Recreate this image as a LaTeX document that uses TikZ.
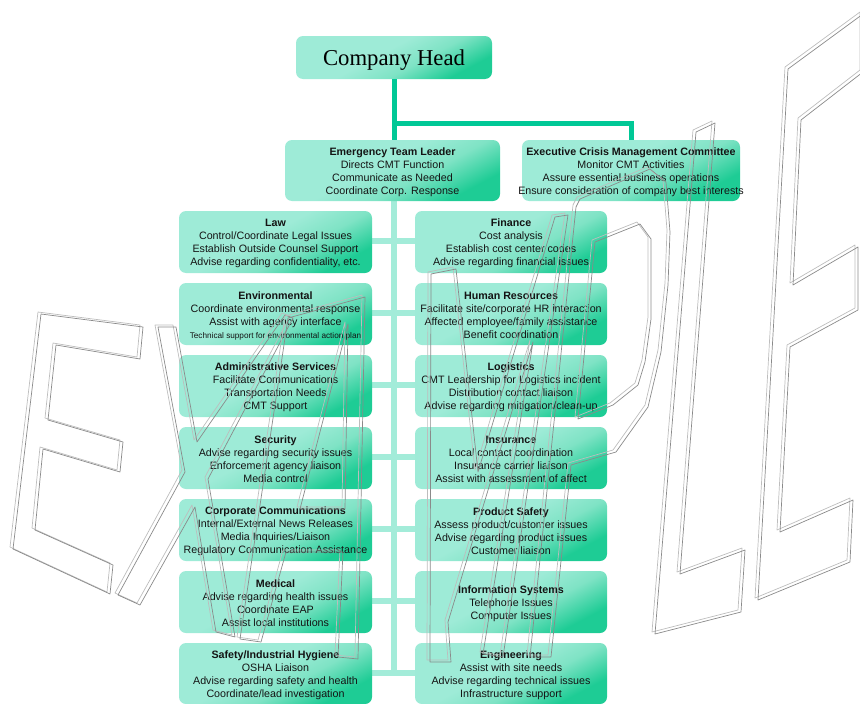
\documentclass[tikz,border=0pt]{standalone}
\usepackage{fontspec}
\setmainfont{Liberation Sans}
\newfontfamily\headfont{Liberation Serif}
\definecolor{boxlight}{HTML}{9EEBD7}
\definecolor{boxmid}{HTML}{7FE3C5}
\definecolor{boxdark}{HTML}{1ECC95}
\definecolor{trunkc}{HTML}{00C896}
\definecolor{branchc}{HTML}{A3ECD9}
\definecolor{wmA}{HTML}{BDBDBD}
\definecolor{wmB}{HTML}{8A8A8A}
\pgfdeclareverticalshading{boxsh}{100bp}{color(0bp)=(boxdark); color(27bp)=(boxdark); color(42bp)=(boxmid); color(55bp)=(boxlight); color(100bp)=(boxlight)}
\tikzset{
  box/.style={rounded corners=7pt, shading=boxsh, shading angle=28, draw=none, inner sep=0pt},
  txt/.style={align=center, inner sep=0pt, font=\fontsize{10.7}{13}\selectfont, text=black!92},
  trunk/.style={draw=trunkc, line width=5pt},
  branch/.style={draw=branchc, line width=6pt},
  wmone/.style={draw=wmA, line width=0.7pt, line join=round},
  wmtwo/.style={draw=wmB, line width=0.7pt, line join=round},
}
\newcommand\obox[6]{%
  \node[box, minimum width=#4pt, minimum height=#5pt] (#1) at (#2,#3) {};
  \node[txt] (#1-t) at ([yshift=-1.5pt]#1.center) {#6};}
\newcommand\wmark[1]{\draw[wmone] #1; \draw[wmtwo, shift={(3,2)}] #1;}
\begin{document}
\begin{tikzpicture}[x=1pt,y=-1pt]
\useasboundingbox (0,0) rectangle (860,704);
\coordinate (j) at (394,123);
\coordinate (vtop) at (394,200);
\coordinate (vend) at (394,676);
% light vertical spine
\draw[branch] (vtop) -- (vend);
% head
\node[box, minimum width=196pt, minimum height=43pt] (head) at (394,57.5) {};
\node[font=\headfont\fontsize{22.7}{26}\selectfont, inner sep=0pt] (head-t) at ([yshift=-3pt]head.center) {Company Head};
% trunk
\draw[trunk] (head.south) -- (j);
\draw[trunk] (j) -- (631,123) -- (631,140);
\draw[trunk] (j) -- (394,140);
% horizontal branches
\foreach \yy in {241,313,385,457,529,601,673} {\draw[branch] (371,\yy) -- (416,\yy);}
\obox{etl}{392.5}{170.5}{215}{61}{\textbf{Emergency Team Leader}\\Directs CMT Function\\Communicate as Needed\\Coordinate Corp. Response}
\obox{ecmc}{631}{170.5}{218}{61}{\textbf{Executive Crisis Management Committee}\\Monitor CMT Activities\\Assure essential business operations\\Ensure consideration of company best interests}
\obox{law}{275.5}{242}{193}{62}{\textbf{Law}\\Control/Coordinate Legal Issues\\Establish Outside Counsel Support\\Advise regarding confidentiality, etc.}
\obox{fin}{511}{242}{192}{62}{\textbf{Finance}\\Cost analysis\\Establish cost center codes\\Advise regarding financial issues}
\obox{env}{275.5}{314}{193}{62}{\textbf{Environmental}\\Coordinate environmental response\\Assist with agency interface\\{\fontsize{8.2}{10}\selectfont Technical support for environmental action plan}}
\obox{hr}{511}{314}{192}{62}{\textbf{Human Resources}\\Facilitate site/corporate HR interaction\\Affected employee/family assistance\\Benefit coordination}
\obox{adm}{275.5}{386}{193}{62}{\textbf{Administrative Services}\\Facilitate Communications\\Transportation Needs\\CMT Support}
\obox{log}{511}{386}{192}{62}{\textbf{Logistics}\\CMT Leadership for Logistics incident\\Distribution contact liaison\\Advise regarding mitigation/clean-up}
\obox{sec}{275.5}{458}{193}{62}{\textbf{Security}\\Advise regarding security issues\\Enforcement agency liaison\\Media control}
\obox{ins}{511}{458}{192}{62}{\textbf{Insurance}\\Local contact coordination\\Insurance carrier liaison\\Assist with assessment of affect}
\obox{cc}{275.5}{530}{193}{62}{\textbf{Corporate Communications}\\Internal/External News Releases\\Media Inquiries/Liaison\\Regulatory Communication Assistance}
\obox{ps}{511}{530}{192}{62}{\textbf{Product Safety}\\Assess product/customer issues\\Advise regarding product issues\\Customer liaison}
\obox{med}{275.5}{602}{193}{62}{\textbf{Medical}\\Advise regarding health issues\\Coordinate EAP\\Assist local institutions}
\obox{is}{511}{602}{192}{62}{\textbf{Information Systems}\\Telephone Issues\\Computer Issues}
\obox{saf}{275.5}{673.5}{193}{61}{\textbf{Safety/Industrial Hygiene}\\OSHA Liaison\\Advise regarding safety and health\\Coordinate/lead investigation}
\obox{eng}{511}{673.5}{192}{61}{\textbf{Engineering}\\Assist with site needs\\Advise regarding technical issues\\Infrastructure support}
% watermark
\wmark{(38,312)--(140,325)--(137,357)--(53,343)--(45,418)--(120,440)--(117,470)--(40,447)--(32,528)--(110,563)--(107,592)--(10,547)--cycle}
\wmark{(155,325)--(173,325)--(194,440)--(282,313)--(290,316)--(205,477)--(232,635)--(213,630)--(192,505)--(137,603)--(115,593)--(182,470)--cycle}
\wmark{(237,637)--(285,316)--(362,295)--(355,657)--(335,655)--(340,550)--(283,550)--(258,640)--cycle}
\wmark{(345,322)--(297,507)--(342,507)--cycle}
\wmark{(427,660)--(428,272)--(453,267)--(475,470)--(552,215)--(565,213)--(500,655)--(480,652)--(530,340)--(445,620)--(448,660)--cycle}
\wmark{(527,655)--(573,205)--(577,197)--(647,167)--(663,180)--(667,230)--(665,283)--(658,350)--(645,405)--(613,450)--(568,463)--(548,655)--cycle}
\wmark{(575,417)--(592,240)--(637,222)--(648,237)--(648,317)--(642,360)--(635,383)--(610,403)--cycle}
\wmark{(693,130)--(712,121)--(677,572)--(742,548)--(738,610)--(652,632)--cycle}
\wmark{(785,67)--(860,12)--(860,70)--(798,118)--(790,283)--(855,245)--(855,308)--(787,345)--(777,530)--(850,498)--(847,560)--(755,598)--cycle}
\end{tikzpicture}
\end{document}
